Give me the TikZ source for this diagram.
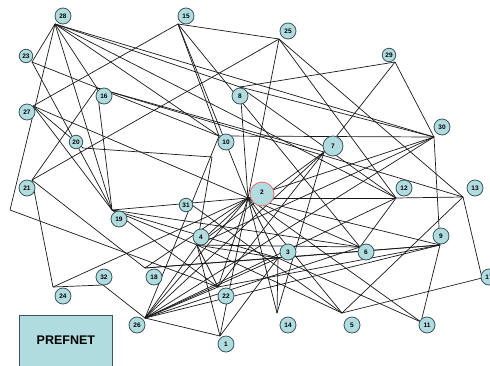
\documentclass[tikz,border=0pt]{standalone}
\usepackage{fontspec}
\setsansfont{Liberation Sans}
\definecolor{nodefill}{RGB}{176,220,224}
\definecolor{nodeline}{RGB}{60,85,90}
\definecolor{hubline}{RGB}{225,110,95}
\begin{document}
\begin{tikzpicture}[x=1pt,y=-1pt,
	edge/.style={draw=black!90,line width=0.7pt},
	vert/.style={circle,fill=nodefill,draw=nodeline,line width=0.8pt,minimum size=16pt,inner sep=0pt,font=\sffamily\bfseries\fontsize{6.5}{6.5}\selectfont},
	small/.style={vert,minimum size=13.5pt},
	hub/.style={vert,draw=hubline,minimum size=24pt}]
	\useasboundingbox (0,0) rectangle (490,365);
	
	% points where the lines meet
	\foreach \n/\x/\y in {1/220/336, 2/248/198, 3/278/258, 4/197/245, 5/342/313, 6/360/247,
		7/324/152, 8/240/87, 9/440/245, 10/219/136, 11/421/322, 12/396/198, 13/463/197,
		14/277/313, 15/178/24, 16/97/88, 17/482/278, 18/145/268, 19/112/210, 20/83/148,
		21/32/180, 22/218/287, 23/32/62, 24/53/287, 25/279/39, 26/145/318, 27/33/106,
		28/55/24, 29/395/62, 30/434/137, 31/192/205, 32/103/285}
		\coordinate (p\n) at (\x,\y);
	\coordinate (bendA) at (10,210);
	\coordinate (bendB) at (212,157);
	
	% links
	\foreach \a/\b in {28/23, 28/19, 28/16, 28/8, 28/12, 28/30, 28/10,
		15/27, 15/25, 15/10, 15/2, 15/6,
		25/21, 25/2, 25/12, 25/13,
		29/8, 29/22, 29/30,
		8/30, 8/12, 8/2,
		23/10, 23/19,
		16/21, 16/19, 16/7, 16/13,
		27/19, 27/20, 27/2,
		10/30, 30/2, 30/26, 30/9, 30/4,
		13/12, 13/17, 13/5, 17/5, 11/9, 11/2,
		2/19, 2/26, 2/4, 2/1, 2/14, 2/5, 2/6, 2/9, 2/3, 2/22, 2/18, 2/12, 2/24,
		26/4, 26/3, 26/6, 26/9, 26/22, 26/1, 26/12, 26/10, 26/7, 26/32,
		4/1, 4/22, 4/6, 4/19, 4/3, 4/5,
		3/14, 3/18, 3/19, 3/9, 3/1, 3/11,
		19/22, 19/6, 31/5,
		21/24, 21/18, 24/32,
		18/9, 22/9, 6/12, 14/7, 7/4}
		\draw[edge] (p\a) -- (p\b);
	\draw[edge] (p28) -- (bendA) -- (p22);
	\draw[edge] (p20) -- (bendB) -- (p4);
	
	% labels
	\foreach \n/\x/\y in {1/226/344, 3/288/252, 4/201/237, 5/352/325, 6/366/252,
		8/240/96, 9/441/236, 10/226/142, 11/427/325, 12/404/188, 13/475/188,
		14/288/325, 15/186/16, 16/104/96, 17/489/277, 18/154/277, 19/119/219,
		21/27/188, 22/226/296, 24/63/296, 25/288/31, 26/137/325, 27/27/112,
		28/63/16, 30/442/127, 32/104/277}
		\node[vert] (n\n) at (\x,\y) {\n};
	\foreach \n/\x/\y in {20/76/142, 23/26/56, 29/389/55, 31/186/205}
		\node[small] (n\n) at (\x,\y) {\n};
	\node[vert,minimum size=20pt] (n7) at (333,146) {7};
	\node[hub] (n2) at (262,194) {\raisebox{3pt}{2}};
	
	\node[draw=nodeline,fill=nodefill,line width=0.8pt,minimum width=93pt,minimum height=55pt,
		anchor=north west,font=\sffamily\bfseries\fontsize{12.5}{12.5}\selectfont] (prefnet) at (19,315) {\raisebox{5pt}{PREFNET}};
\end{tikzpicture}
\end{document}
